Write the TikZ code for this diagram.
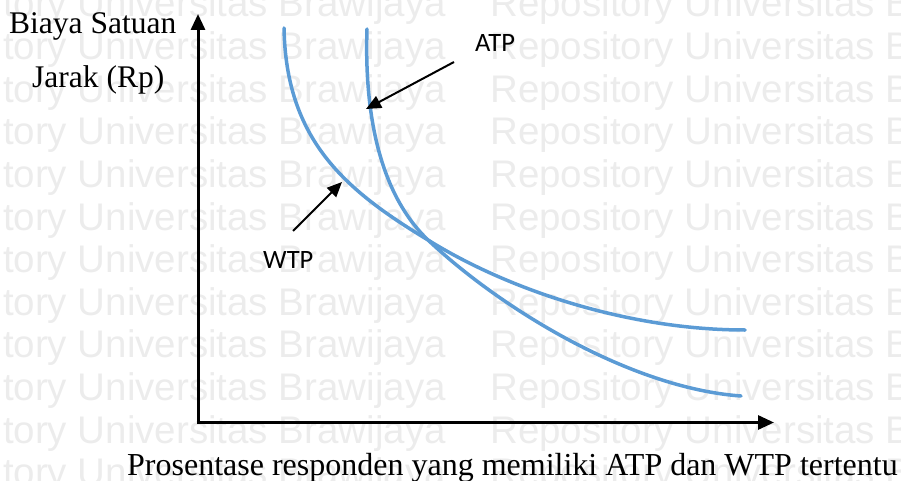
\documentclass[tikz,border=0pt]{standalone}
\usepackage{fontspec}
\setmainfont{Liberation Serif}
\newfontfamily\labelfont{Carlito}
\newfontfamily\markfont{Liberation Sans}
\usetikzlibrary{arrows.meta}
\definecolor{curveblue}{RGB}{91,155,213}
\definecolor{markgray}{RGB}{236,236,236}
\tikzset{
  axis/.style={line width=3pt, -{Triangle[length=16pt,width=14pt]}},
  pointer/.style={line width=2pt, -{Triangle[length=15pt,width=13pt]}},
  curve/.style={line width=3.5pt, curveblue, line cap=round},
  axistext/.style={inner sep=0pt, anchor=base west, font=\fontsize{31.5}{38}\selectfont},
  curvetext/.style={inner sep=0pt, anchor=base west, font=\labelfont\fontsize{26.5}{32}\selectfont},
  marktext/.style={inner sep=0pt, anchor=base west, text=markgray, font=\markfont\fontsize{38.5}{46}\selectfont}
}
\begin{document}
\begin{tikzpicture}[x=1pt, y=-1pt]
\useasboundingbox (0,0) rectangle (901,481);
% background repository mark
\begin{scope}
  \clip (0,0) rectangle (901,481);
  \foreach \k in {0,...,11} {
    \node[marktext] (wl\k) at (-117, 17+42.6*\k) {Repository Universitas Brawijaya};
    \node[marktext] (wr\k) at (490, 17+42.6*\k) {Repository Universitas Brawijaya};
  }
\end{scope}
% axes
\coordinate (origin) at (198,422.5);
\coordinate (ytop) at (198,14);
\coordinate (xend) at (774,422.5);
\draw[axis] (origin) -- (ytop);
\draw[axis] ([xshift=-1.5pt]origin) -- (xend);
% axis labels
\node[axistext] (ylab1) at (9,34) {Biaya Satuan};
\node[axistext] (ylab2) at (32,88) {Jarak (Rp)};
\node[axistext, font=\fontsize{32}{38}\selectfont] (xlab) at (127,475)
  {Prosentase responden yang memiliki ATP dan WTP tertentu};
% the two curves meet at (cross)
\coordinate (cross) at (428,240);
\coordinate (wtpstart) at (284,28);
\coordinate (wtpend) at (745,330);
\coordinate (atpstart) at (367,29);
\coordinate (atpend) at (741,396);
\draw[curve] (wtpstart) .. controls (286,140) and (345,190) .. (cross)
             .. controls (510,291) and (630,330) .. (wtpend);
\draw[curve] (atpstart) .. controls (364,120) and (382,196) .. (cross)
             .. controls (500,308) and (630,388) .. (atpend);
% curve labels with pointers
\node[curvetext] (atp) at (475,52) {ATP};
\node[curvetext] (wtp) at (263,268) {WTP};
\coordinate (atptail) at (454,62);
\coordinate (atphit) at (366,109);
\coordinate (wtptail) at (293,231);
\coordinate (wtphit) at (342,182);
\draw[pointer] (atptail) -- (atphit);
\draw[pointer] (wtptail) -- (wtphit);
\end{tikzpicture}
\end{document}
